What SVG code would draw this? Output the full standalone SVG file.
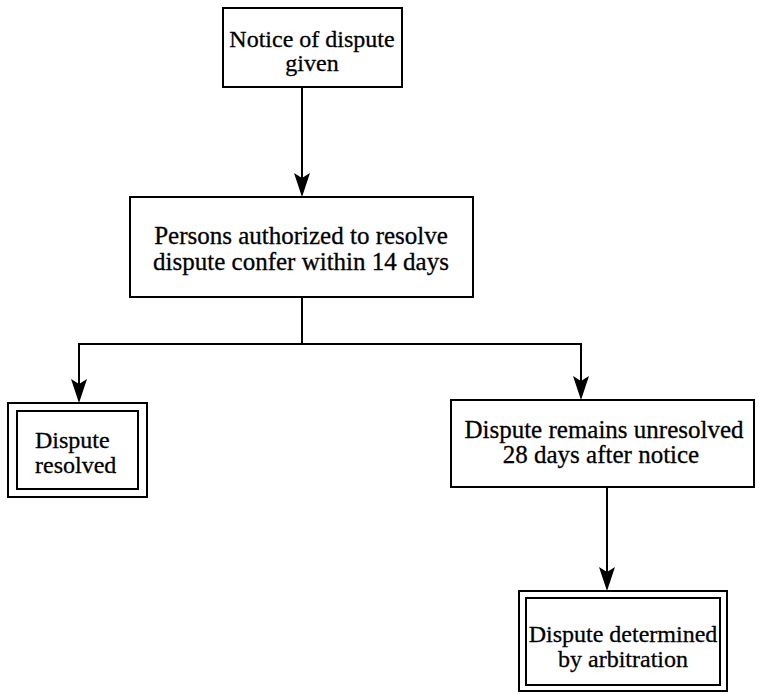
<svg xmlns="http://www.w3.org/2000/svg" width="759" height="694" viewBox="0 0 759 694">
  <style>
    .box { fill: #fff; stroke: #000; stroke-width: 2; }
    .line { fill: none; stroke: #000; stroke-width: 2; }
    .head { fill: #000; stroke: none; }
    .t { font-family: "Liberation Serif", "Times New Roman", serif; font-size: 24px; fill: #000; stroke: #000; stroke-width: 0.3; }
    .c { text-anchor: middle; }
  </style>
  <defs>
    <!-- downward arrowhead, tip at the origin -->
    <path id="ah" d="M-8,-24 L0,-19 L8,-24 L0,0 Z"/>
  </defs>
  <rect width="759" height="694" fill="#fff"/>

  <g id="connectors">
    <line class="line" x1="302" y1="87" x2="302" y2="185"/>
    <polyline class="line" points="302,297 302,344 79,344 79,392"/>
    <polyline class="line" points="302,344 581,344 581,389"/>
    <line class="line" x1="607" y1="487" x2="607" y2="580"/>
    <use href="#ah" class="head" x="302" y="197"/>
    <use href="#ah" class="head" x="79" y="403"/>
    <use href="#ah" class="head" x="581" y="400"/>
    <use href="#ah" class="head" x="607" y="591"/>
  </g>

  <g id="notice" font-family="Liberation Serif, serif">
    <rect class="box" x="223" y="8" width="179" height="79"/>
    <text class="t c" x="312" y="47" font-size="22">Notice of dispute</text>
    <text class="t c" x="312" y="71" font-size="22">given</text>
  </g>

  <g id="confer" font-family="Liberation Serif, serif">
    <rect class="box" x="130" y="197" width="343" height="100"/>
    <text class="t c" x="301" y="244" style="font-size:25px">Persons authorized to resolve</text>
    <text class="t c" x="301" y="270" style="font-size:25px">dispute confer within 14 days</text>
  </g>

  <g id="resolved" font-family="Liberation Serif, serif">
    <rect class="box" x="8" y="403" width="139" height="94"/>
    <rect class="box" x="17" y="411" width="121" height="78"/>
    <text class="t" x="35" y="448">Dispute</text>
    <text class="t" x="35" y="473">resolved</text>
  </g>

  <g id="unresolved" font-family="Liberation Serif, serif">
    <rect class="box" x="451" y="400" width="303" height="87"/>
    <text class="t c" x="604" y="438" style="font-size:25px">Dispute remains unresolved</text>
    <text class="t c" x="601" y="463" style="font-size:25px">28 days after notice</text>
  </g>

  <g id="arbitration" font-family="Liberation Serif, serif">
    <rect class="box" x="519" y="591" width="208" height="100"/>
    <rect class="box" x="526" y="598" width="194" height="87"/>
    <text class="t c" x="623" y="642">Dispute determined</text>
    <text class="t c" x="623" y="667">by arbitration</text>
  </g>
</svg>
